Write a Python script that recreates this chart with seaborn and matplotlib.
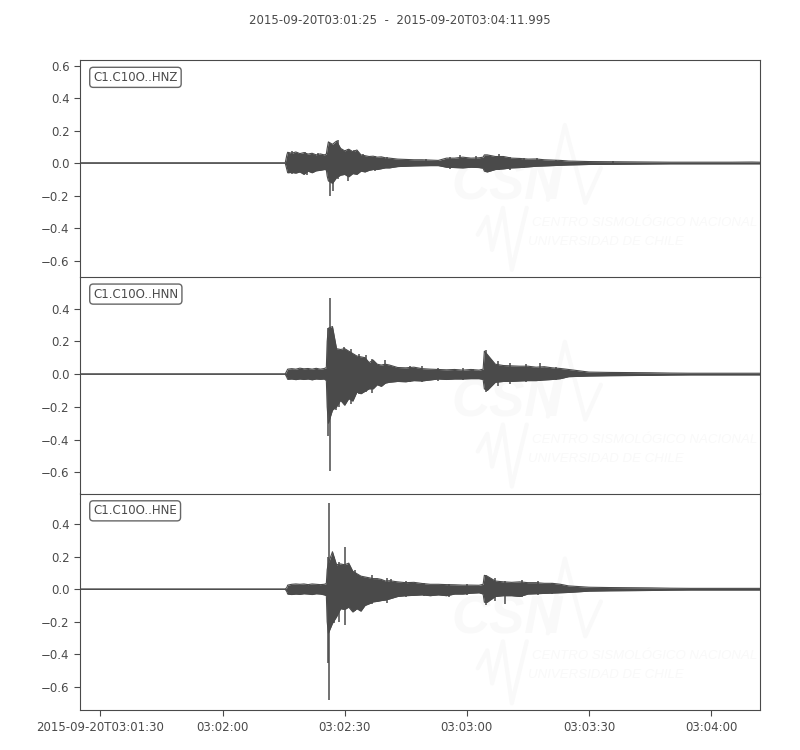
import pandas as pd
import matplotlib
matplotlib.use('Agg')
import matplotlib.pyplot as plt
import seaborn as sns

# --- tiempos (segundos desde 03:01:25) ---
env_t = [0, 50.4, 50.8,
         51, 52, 53, 54, 55, 56, 57, 58, 59, 60, 60.5, 60.7,
         61, 62, 63, 64, 65, 66, 67, 68, 69, 70, 71, 72, 73, 74, 75, 76,
         78, 80, 82, 84, 86, 88, 90, 92, 94, 96, 98, 99, 99.3, 100, 102, 104, 106, 108, 110, 112, 114, 116, 118, 120,
         125, 130, 135, 140, 145, 150, 155, 160, 165, 166.995]

# --- envolventes por canal ---
hnz_up = [.001, .001, .05,
          .066, .06, .068, .058, .064, .055, .06, .05, .056, .05, .055, .09,
          .13, .115, .135, .09, .075, .085, .07, .08, .05, .045, .04, .042, .036, .038, .032, .03,
          .024, .022, .02, .02, .018, .016, .03, .03, .036, .03, .032, .036, .05, .05, .04, .04, .03, .028, .024, .025, .02, .018, .016, .012,
          .009, .008, .007, .006, .005, .005, .005, .005, .006, .005]
hnz_lo = [-.001, -.001, -.04,
          -.06, -.058, -.062, -.055, -.07, -.05, -.06, -.048, -.045, -.04, -.042, -.08,
          -.11, -.125, -.09, -.075, -.07, -.085, -.065, -.07, -.05, -.055, -.045, -.04, -.04, -.035, -.03, -.03,
          -.022, -.02, -.018, -.017, -.016, -.016, -.026, -.028, -.03, -.026, -.028, -.032, -.05, -.055, -.04, -.036, -.03, -.028, -.024, -.02, -.018, -.016, -.014, -.012,
          -.009, -.008, -.007, -.006, -.005, -.005, -.005, -.005, -.005, -.005]

hnn_up = [.001, .001, .02,
          .03, .033, .03, .036, .032, .034, .03, .035, .03, .034, .04, .2,
          .28, .29, .155, .15, .155, .14, .125, .11, .105, .1, .07, .085, .06, .055, .06, .055,
          .04, .038, .042, .033, .03, .028, .026, .028, .024, .028, .024, .03, .14, .12, .06, .052, .05, .048, .048, .042, .045, .038, .034, .028,
          .012, .01, .009, .008, .006, .005, .005, .005, .005, .005]
hnn_lo = [-.001, -.001, -.02,
          -.032, -.03, -.034, -.03, -.033, -.03, -.035, -.03, -.032, -.03, -.04, -.2,
          -.3, -.22, -.2, -.16, -.19, -.15, -.165, -.11, -.12, -.105, -.09, -.09, -.065, -.075, -.055, -.05,
          -.045, -.047, -.04, -.042, -.036, -.03, -.033, -.03, -.03, -.028, -.028, -.033, -.09, -.1, -.05, -.045, -.045, -.042, -.04, -.04, -.036, -.033, -.028, -.016,
          -.012, -.01, -.009, -.008, -.006, -.005, -.005, -.005, -.005, -.005]

hne_up = [.001, .001, .01,
          .025, .03, .032, .03, .032, .028, .032, .03, .028, .03, .035, .12,
          .16, .23, .15, .155, .15, .16, .11, .095, .08, .075, .07, .065, .065, .06, .05, .052,
          .045, .04, .042, .035, .03, .03, .028, .027, .025, .025, .024, .03, .085, .08, .05, .045, .042, .045, .04, .04, .036, .036, .03, .02,
          .012, .01, .009, .008, .006, .005, .005, .005, .005, .005]
hne_lo = [-.001, -.001, -.015,
          -.03, -.033, -.03, -.032, -.028, -.03, -.033, -.028, -.03, -.035, -.04, -.2,
          -.27, -.21, -.17, -.12, -.125, -.11, -.14, -.12, -.135, -.1, -.09, -.078, -.075, -.07, -.067, -.06,
          -.045, -.04, -.038, -.035, -.04, -.035, -.04, -.03, -.03, -.025, -.022, -.03, -.08, -.08, -.045, -.04, -.04, -.045, -.03, -.028, -.026, -.024, -.022, -.02,
          -.012, -.01, -.009, -.008, -.006, -.005, -.005, -.005, -.005, -.005]

# --- picos aislados (tiempo, mínimo, máximo) ---
hnz_spike_t = [52, 55.3, 55.7, 58.4, 61.3, 62.1, 63.3, 65.7, 67.2, 69.5, 72.5, 75.4, 80.6, 85, 90.8, 93.4, 97.2, 102.8, 105.6, 109, 112.2, 117, 124, 131]
hnz_spike_lo = [-.065, -.05, -.075, -.05, -.205, -.175, -.1, -.11, -.06, -.05, -.05, -.03, -.02, -.018, -.035, -.03, -.03, -.04, -.04, -.028, -.02, -.016, -.012, -.008]
hnz_spike_hi = [.076, .07, .03, .064, .12, .1, .14, .086, .078, .055, .045, .04, .026, .024, .04, .052, .042, .058, .04, .032, .032, .02, .012, .01]

hnn_spike_t = [60.9, 61.3, 62.9, 63.6, 64.9, 66.5, 68.6, 70.3, 71.8, 74.8, 81, 84, 88, 94, 96.6, 99.6, 102.6, 105.7, 109.5, 113, 117]
hnn_spike_lo = [-.38, -.59, -.22, -.2, -.15, -.185, -.12, -.11, -.115, -.06, -.05, -.048, -.04, -.035, -.032, -.11, -.07, -.06, -.05, -.045, -.035]
hnn_spike_hi = [.28, .463, .16, .14, .165, .15, .125, .115, .09, .085, .05, .05, .04, .036, .032, .145, .08, .07, .06, .067, .045]

hne_spike_t = [60.9, 61.2, 62.3, 63.5, 65.1, 67.6, 71.8, 75.4, 76.4, 80, 84.5, 90.5, 95, 99.8, 101.9, 104.4, 108.5, 112.4, 116]
hne_spike_lo = [-.455, -.68, -.21, -.2, -.22, -.135, -.09, -.085, -.06, -.05, -.04, -.05, -.035, -.1, -.07, -.09, -.05, -.035, -.03]
hne_spike_hi = [.2, .53, .2, .165, .26, .12, .085, .07, .06, .05, .04, .03, .03, .09, .07, .05, .055, .05, .04]

canales = ['C1.C10O..HNZ', 'C1.C10O..HNN', 'C1.C10O..HNE']
y_limits = [(-.70, .634), (-.729, .594), (-.744, .588)]
y_ticks = [[-.6, -.4, -.2, 0, .2, .4, .6],
           [-.6, -.4, -.2, 0, .2, .4],
           [-.6, -.4, -.2, 0, .2, .4]]
x_ticks = [5, 35, 65, 95, 125, 155]
x_labels = ['2015-09-20T03:01:30', '03:02:00', '03:02:30', '03:03:00', '03:03:30', '03:04:00']
titulo = '2015-09-20T03:01:25  -  2015-09-20T03:04:11.995'

cinza = '#4a4a4a'
logo_cor = '#f9f9f9'

sns.set_style('ticks', {'axes.edgecolor': cinza, 'xtick.color': cinza, 'ytick.color': cinza,
                        'text.color': cinza, 'axes.labelcolor': cinza})
plt.rcParams['font.family'] = ['DejaVu Sans']


def desenha_logo(ax):
    """Marca d'água do CSN, em coordenadas relativas ao painel."""
    tr = ax.transAxes
    ax.text(0.628, 0.42, 'CSN', transform=tr, fontsize=38, style='italic', weight='bold',
            family='Liberation Sans', color=logo_cor, ha='center', va='center', zorder=0)
    ax.plot([.688, .713, .743, .766], [.355, .70, .341, .502],
            transform=tr, color=logo_cor, lw=3, zorder=0)
    ax.plot([.585, .599, .606, .622, .635, .657], [.194, .276, .124, .318, .032, .318],
            transform=tr, color=logo_cor, lw=3, zorder=0)
    ax.text(0.665, 0.249, 'CENTRO SISMOLÓGICO NACIONAL', transform=tr, fontsize=9.5, style='italic',
            family='Liberation Sans', color=logo_cor, va='center', zorder=0)
    ax.text(0.659, 0.161, 'UNIVERSIDAD DE CHILE', transform=tr, fontsize=9.5, style='italic',
            family='Liberation Sans', color=logo_cor, va='center', zorder=0)


def desenha_canal(ax, up, lo, spike_t, spike_lo, spike_hi, nome, ylim, yticks):
    df = pd.DataFrame({'t': env_t, 'up': up, 'lo': lo})
    ax.fill_between(df['t'], df['lo'], df['up'], color=cinza, lw=0, zorder=2)
    sns.lineplot(data=df, x='t', y='up', ax=ax, color=cinza, lw=0.8, estimator=None, zorder=3)
    sns.lineplot(data=df, x='t', y='lo', ax=ax, color=cinza, lw=0.8, estimator=None, zorder=3)
    ax.vlines(spike_t, spike_lo, spike_hi, color=cinza, lw=1.1, zorder=3)
    ax.set_xlim(0, 166.995)
    ax.set_ylim(*ylim)
    ax.set_yticks(yticks)
    ax.set_xlabel('')
    ax.set_ylabel('')
    ax.tick_params(labelsize=8.5, length=4, width=0.8, colors=cinza)
    ax.text(0.0195, 0.92, nome, transform=ax.transAxes, fontsize=8.5, color=cinza, va='center',
            bbox=dict(boxstyle='round', fc='white', ec='#666666', lw=1, pad=0.3), zorder=5)
    desenha_logo(ax)


fig, axes = plt.subplots(3, 1, sharex=True, figsize=(8, 7.5), dpi=100)
fig.subplots_adjust(left=0.1, right=0.95, top=0.92, bottom=0.053, hspace=0)

desenha_canal(axes[0], hnz_up, hnz_lo, hnz_spike_t, hnz_spike_lo, hnz_spike_hi, canales[0], y_limits[0], y_ticks[0])
desenha_canal(axes[1], hnn_up, hnn_lo, hnn_spike_t, hnn_spike_lo, hnn_spike_hi, canales[1], y_limits[1], y_ticks[1])
desenha_canal(axes[2], hne_up, hne_lo, hne_spike_t, hne_spike_lo, hne_spike_hi, canales[2], y_limits[2], y_ticks[2])

axes[2].set_xticks(x_ticks)
axes[2].set_xticklabels(x_labels)
for ax in axes[:2]:
    ax.tick_params(axis='x', length=0, labelbottom=False)
    ax.spines['bottom'].set_visible(False)

fig.text(0.5, 0.9722, titulo, ha='center', va='center', fontsize=8.5, color=cinza)

plt.savefig('out.png', dpi=100)
plt.close()
